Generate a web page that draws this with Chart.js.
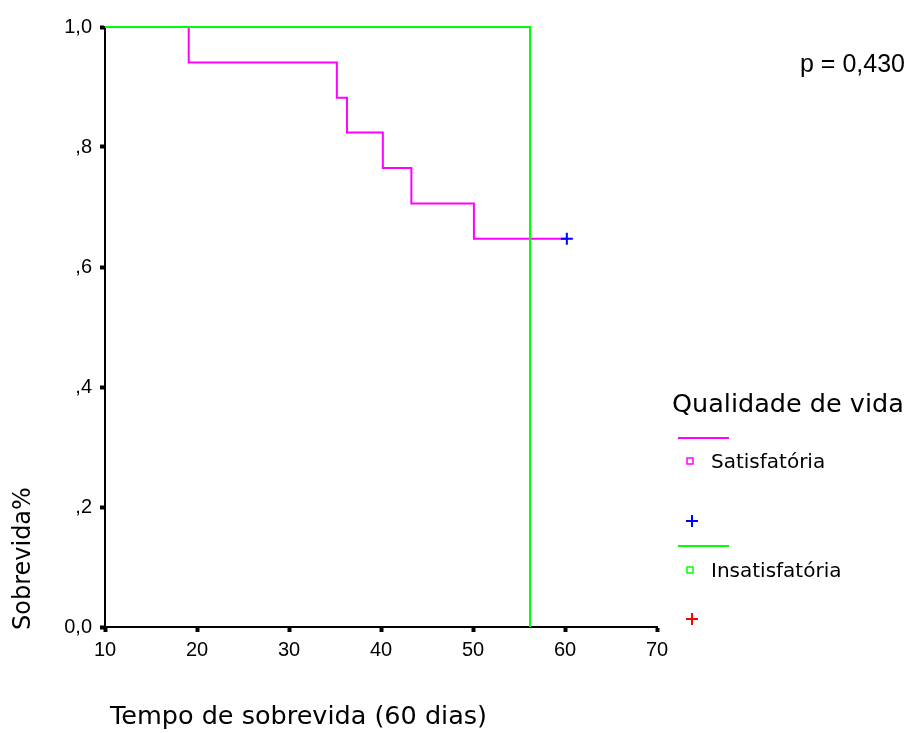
<!DOCTYPE html>
<html>
<head>
<meta charset="utf-8">
<script src="https://cdn.jsdelivr.net/npm/chart.js@4.4.1/dist/chart.umd.min.js"></script>
<style>
  html, body { margin: 0; padding: 0; background: #fff; }
  #wrap { width: 914px; height: 733px; }
</style>
</head>
<body>
<div id="wrap"><canvas id="km" width="914" height="733"></canvas></div>
<script>
// Kaplan-Meier steps: time of each event and survival after it
const satisTimes = [10, 19.1, 35.2, 36.3, 40.2, 43.3, 50.1, 60.2];
const satisSurv  = [1.0, 0.941, 0.882, 0.824, 0.765, 0.706, 0.647, 0.647];
const satisCensor = [{ x: 60.2, y: 0.647 }];

const insatTimes = [10, 56.2, 56.2];
const insatSurv  = [1.0, 1.0, 0.0];

const xTicks = [10, 20, 30, 40, 50, 60, 70];
const yTickLabels = { 0: '0,0', 0.2: ',2', 0.4: ',4', 0.6: ',6', 0.8: ',8', 1: '1,0' };

const legendTitle = 'Qualidade de vida';
const groupNames = ['Satisfatória', 'Insatisfatória'];
const pText = 'p = 0,430';
const xTitle = 'Tempo de sobrevida (60 dias)';
const yTitle = 'Sobrevida%';

const MAGENTA = '#ff00ff', GREEN = '#00ff00', BLUE = '#0000ff', RED = '#ff0000';
const ARIAL = '"Liberation Sans", Arial, sans-serif';
const SANS = '"DejaVu Sans", sans-serif';

function pts(xs, ys){ return xs.map((x, i) => ({ x: x, y: ys[i] })); }

// Titles, legend and p value are drawn straight onto the canvas
const extras = {
  id: 'extras',
  afterDraw(chart){
    const ctx = chart.ctx;
    ctx.save();
    ctx.fillStyle = '#000';
    ctx.textBaseline = 'middle';
    ctx.textAlign = 'left';

    ctx.font = '25px ' + ARIAL;
    ctx.fillText(pText, 800, 65);

    ctx.font = '25.5px ' + SANS;
    ctx.fillText(legendTitle, 672, 405);

    ctx.font = '20px ' + SANS;
    const rows = [
      { color: MAGENTA, line: 438, box: 461, name: groupNames[0], plus: 521, plusColor: BLUE },
      { color: GREEN, line: 546, box: 570, name: groupNames[1], plus: 619, plusColor: RED }
    ];
    rows.forEach(r => {
      ctx.strokeStyle = r.color;
      ctx.lineWidth = 2;
      ctx.beginPath(); ctx.moveTo(678, r.line); ctx.lineTo(729, r.line); ctx.stroke();
      ctx.lineWidth = 1.5;
      ctx.strokeRect(687, r.box - 3, 6, 6);
      ctx.fillStyle = '#000';
      ctx.fillText(r.name, 711, r.box + 2);
      ctx.strokeStyle = r.plusColor;
      ctx.lineWidth = 2;
      ctx.beginPath();
      ctx.moveTo(686, r.plus); ctx.lineTo(698, r.plus);
      ctx.moveTo(692, r.plus - 6); ctx.lineTo(692, r.plus + 6);
      ctx.stroke();
    });

    ctx.fillStyle = '#000';
    ctx.font = '25.5px ' + SANS;
    ctx.fillText(xTitle, 110, 717);

    ctx.font = '24px ' + SANS;
    ctx.translate(24, 630);
    ctx.rotate(-Math.PI / 2);
    ctx.fillText(yTitle, 0, 0);
    ctx.restore();
  }
};

new Chart(document.getElementById('km'), {
  type: 'line',
  data: {
    datasets: [
      { label: groupNames[0], data: pts(satisTimes, satisSurv), stepped: 'before', clip: 6,
        borderColor: MAGENTA, borderWidth: 2, pointRadius: 0, fill: false, order: 2 },
      { label: groupNames[1], data: pts(insatTimes, insatSurv), stepped: 'before', clip: 6,
        borderColor: GREEN, borderWidth: 2, pointRadius: 0, fill: false, order: 1 },
      { label: 'censurado', type: 'scatter', data: satisCensor, pointStyle: 'cross', clip: 10,
        pointRadius: 6, borderColor: BLUE, borderWidth: 2, order: 0 }
    ]
  },
  options: {
    responsive: false,
    animation: false,
    layout: { padding: { left: 0, top: 27, right: 257, bottom: 0 } },
    plugins: { legend: { display: false }, tooltip: { enabled: false } },
    scales: {
      x: {
        type: 'linear', min: 10, max: 70,
        afterBuildTicks(s){ s.ticks = xTicks.map(v => ({ value: v })); },
        afterFit(s){ s.height = 106; },
        border: { display: true, color: '#000', width: 2 },
        grid: { drawOnChartArea: false, color: '#000', tickLength: 5, tickWidth: 4 },
        ticks: { color: '#000', padding: 6, maxRotation: 0, font: { family: ARIAL, size: 20 } }
      },
      y: {
        min: 0, max: 1,
        afterBuildTicks(s){ s.ticks = [0, 0.2, 0.4, 0.6, 0.8, 1].map(v => ({ value: v })); },
        afterFit(s){ s.width = 105; },
        border: { display: true, color: '#000', width: 2 },
        grid: { drawOnChartArea: false, color: '#000', tickLength: 5, tickWidth: 4 },
        ticks: { color: '#000', padding: 8,
                 callback: v => yTickLabels[Math.round(v * 10) / 10],
                 font: { family: ARIAL, size: 20 } }
      }
    }
  },
  plugins: [extras]
});
</script>
</body>
</html>
